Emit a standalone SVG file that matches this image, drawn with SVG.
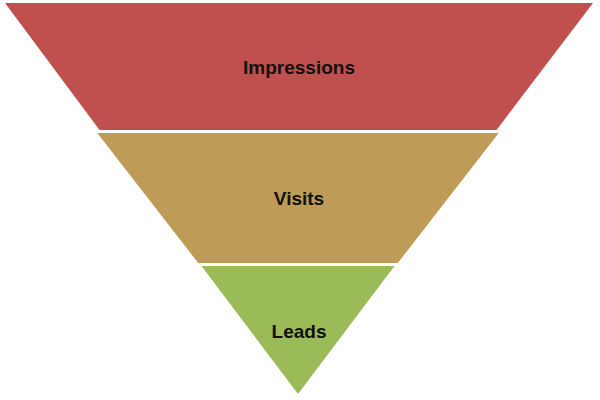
<svg xmlns="http://www.w3.org/2000/svg" width="600" height="400" viewBox="0 0 600 400">
<style>
.lbl{font-family:"Liberation Sans",Arial,sans-serif;font-weight:bold;font-size:19px;fill:#111;text-anchor:middle}
</style>
<rect width="600" height="400" fill="#fff"/>
<g id="impressions">
<polygon points="5,3 593,3 496.5,130 99.5,130" fill="#C0504D"/>
<text class="lbl" x="299" y="74">Impressions</text>
</g>
<g id="visits">
<polygon points="97.3,133 498.7,133 397.8,263 198.2,263" fill="#BE9B56"/>
<text class="lbl" x="299" y="205">Visits</text>
</g>
<g id="leads">
<polygon points="201.5,266 394.5,266 298,394" fill="#9BBB59"/>
<text class="lbl" x="299" y="338">Leads</text>
</g>
<g id="connectors"/>
</svg>
